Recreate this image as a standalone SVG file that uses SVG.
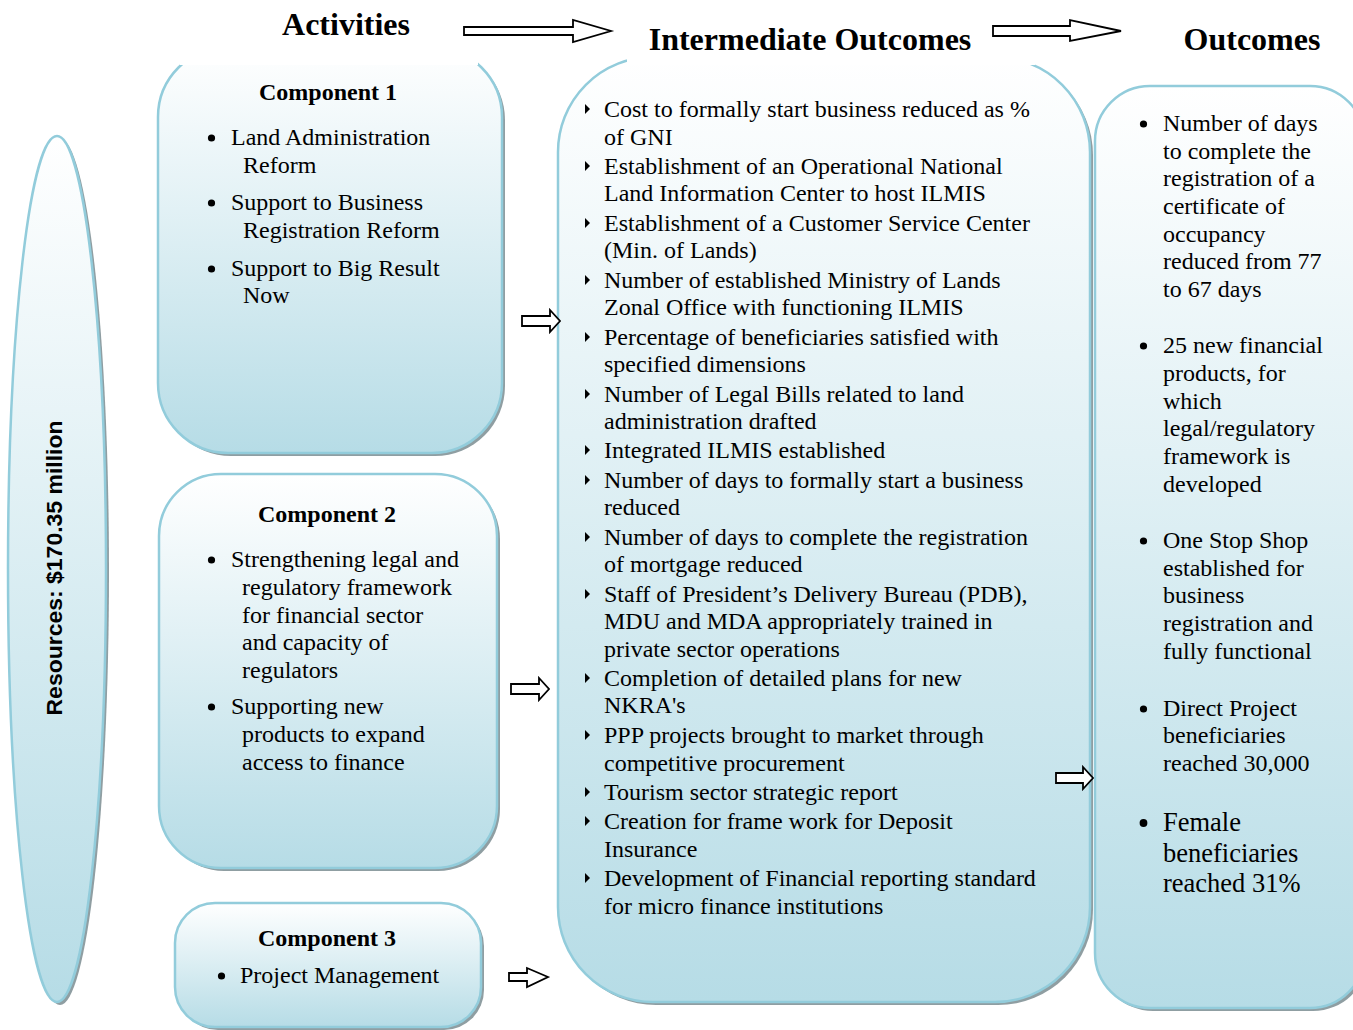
<svg xmlns="http://www.w3.org/2000/svg" width="1353" height="1030" viewBox="0 0 1353 1030">
<defs>
<linearGradient id="g" x1="0" y1="0" x2="0" y2="1">
<stop offset="0" stop-color="#ffffff"/>
<stop offset="1" stop-color="#b6dce6"/>
</linearGradient>
<style>
.box{fill:url(#g);stroke:#92ccdb;stroke-width:2.5}
.sh{fill:#8f9ea2}
.t{font-family:"Liberation Serif","Times New Roman",serif;font-size:24px;fill:#000}
.h{font-family:"Liberation Serif","Times New Roman",serif;font-size:24px;font-weight:bold;fill:#000;text-anchor:middle}
.title{font-family:"Liberation Serif","Times New Roman",serif;font-size:32px;font-weight:bold;fill:#000;text-anchor:middle}
.arr{fill:#fff;stroke:#000;stroke-width:1.8;stroke-linejoin:miter}
.tri{fill:#000}
.dot{fill:#000}
</style>
</defs>
<rect width="1353" height="1030" fill="#fff"/>

<g id="resources">
<ellipse cx="60" cy="572" rx="49" ry="433" class="sh"/>
<ellipse cx="57" cy="569" rx="49" ry="433" class="box"/>
<text transform="translate(62,568) rotate(-90)" text-anchor="middle" font-family="Liberation Sans Narrow,Liberation Sans,Arial,sans-serif" font-size="22" font-weight="bold" textLength="295" lengthAdjust="spacingAndGlyphs">Resources: $170.35 million</text>
</g>

<g id="component1">
<rect x="161" y="50" width="344" height="406" rx="70" class="sh"/>
<rect x="158" y="47" width="344" height="406" rx="70" class="box"/>
<rect x="180" y="0" width="298" height="65" fill="#fff"/>
<text x="328" y="100" class="h">Component 1</text>
<circle class="dot" cx="211.5" cy="138" r="3.6"/>
<text x="231" y="145" class="t">Land Administration</text>
<text x="243" y="173" class="t">Reform</text>
<circle class="dot" cx="211.5" cy="203" r="3.6"/>
<text x="231" y="210" class="t">Support to Business</text>
<text x="243" y="238" class="t">Registration Reform</text>
<circle class="dot" cx="211.5" cy="269" r="3.6"/>
<text x="231" y="276" class="t">Support to Big Result</text>
<text x="243" y="303" class="t">Now</text>
</g>

<g id="component2">
<rect x="162" y="477" width="338" height="394" rx="62" class="sh"/>
<rect x="159" y="474" width="338" height="394" rx="62" class="box"/>
<text x="327" y="522" class="h">Component 2</text>
<circle class="dot" cx="211.5" cy="560" r="3.6"/>
<text x="231" y="567" class="t">Strengthening legal and</text>
<text x="242" y="595" class="t">regulatory framework</text>
<text x="242" y="623" class="t">for financial sector</text>
<text x="242" y="650" class="t">and capacity of</text>
<text x="242" y="678" class="t">regulators</text>
<circle class="dot" cx="211.5" cy="707" r="3.6"/>
<text x="231" y="714" class="t">Supporting new</text>
<text x="242" y="742" class="t">products to expand</text>
<text x="242" y="770" class="t">access to finance</text>
</g>

<g id="component3">
<rect x="178" y="906" width="306" height="124" rx="40" class="sh"/>
<rect x="175" y="903" width="306" height="124" rx="40" class="box"/>
<text x="327" y="946" class="h">Component 3</text>
<circle class="dot" cx="221.5" cy="976" r="3.6"/>
<text x="240" y="983" class="t">Project Management</text>
</g>

<g id="intermediate">
<rect x="561" y="60" width="532" height="945" rx="95" class="sh"/>
<rect x="558" y="57" width="532" height="945" rx="95" class="box"/>
<rect x="627" y="0" width="408" height="65" fill="#fff"/>
<g class="tri">
<polygon points="585,104 590,109 585,114"/>
<polygon points="585,161 590,166 585,171"/>
<polygon points="585,218 590,223 585,228"/>
<polygon points="585,275 590,280 585,285"/>
<polygon points="585,332 590,337 585,342"/>
<polygon points="585,389 590,394 585,399"/>
<polygon points="585,445 590,450 585,455"/>
<polygon points="585,475 590,480 585,485"/>
<polygon points="585,532 590,537 585,542"/>
<polygon points="585,589 590,594 585,599"/>
<polygon points="585,673 590,678 585,683"/>
<polygon points="585,730 590,735 585,740"/>
<polygon points="585,787 590,792 585,797"/>
<polygon points="585,816 590,821 585,826"/>
<polygon points="585,873 590,878 585,883"/>
</g>
<text class="t" x="604" y="117">Cost to formally start business reduced as %</text>
<text class="t" x="604" y="145">of GNI</text>
<text class="t" x="604" y="174">Establishment of an Operational National</text>
<text class="t" x="604" y="201">Land Information Center to host ILMIS</text>
<text class="t" x="604" y="231">Establishment of a Customer Service Center</text>
<text class="t" x="604" y="258">(Min. of Lands)</text>
<text class="t" x="604" y="288">Number of established Ministry of Lands</text>
<text class="t" x="604" y="315">Zonal Office with functioning ILMIS</text>
<text class="t" x="604" y="345">Percentage of beneficiaries satisfied with</text>
<text class="t" x="604" y="372">specified dimensions</text>
<text class="t" x="604" y="402">Number of Legal Bills related to land</text>
<text class="t" x="604" y="429">administration drafted</text>
<text class="t" x="604" y="458">Integrated ILMIS established</text>
<text class="t" x="604" y="488">Number of days to formally start a business</text>
<text class="t" x="604" y="515">reduced</text>
<text class="t" x="604" y="545">Number of days to complete the registration</text>
<text class="t" x="604" y="572">of mortgage reduced</text>
<text class="t" x="604" y="602">Staff of President’s Delivery Bureau (PDB),</text>
<text class="t" x="604" y="629">MDU and MDA appropriately trained in</text>
<text class="t" x="604" y="657">private sector operations</text>
<text class="t" x="604" y="686">Completion of detailed plans for new</text>
<text class="t" x="604" y="713">NKRA's</text>
<text class="t" x="604" y="743">PPP projects brought to market through</text>
<text class="t" x="604" y="771">competitive procurement</text>
<text class="t" x="604" y="800">Tourism sector strategic report</text>
<text class="t" x="604" y="829">Creation for frame work for Deposit</text>
<text class="t" x="604" y="857">Insurance</text>
<text class="t" x="604" y="886">Development of Financial reporting standard</text>
<text class="t" x="604" y="914">for micro finance institutions</text>
</g>

<g id="outcomes">
<rect x="1098" y="89" width="270" height="922" rx="55" class="sh"/>
<rect x="1095" y="86" width="270" height="922" rx="55" class="box"/>
<circle class="dot" cx="1143.5" cy="124" r="3.6"/>
<text class="t" x="1163" y="131">Number of days</text>
<text class="t" x="1163" y="159">to complete the</text>
<text class="t" x="1163" y="186">registration of a</text>
<text class="t" x="1163" y="214">certificate of</text>
<text class="t" x="1163" y="242">occupancy</text>
<text class="t" x="1163" y="269">reduced from 77</text>
<text class="t" x="1163" y="297">to 67 days</text>
<circle class="dot" cx="1143.5" cy="346" r="3.6"/>
<text class="t" x="1163" y="353">25 new financial</text>
<text class="t" x="1163" y="381">products, for</text>
<text class="t" x="1163" y="409">which</text>
<text class="t" x="1163" y="436">legal/regulatory</text>
<text class="t" x="1163" y="464">framework is</text>
<text class="t" x="1163" y="492">developed</text>
<circle class="dot" cx="1143.5" cy="541" r="3.6"/>
<text class="t" x="1163" y="548">One Stop Shop</text>
<text class="t" x="1163" y="576">established for</text>
<text class="t" x="1163" y="603">business</text>
<text class="t" x="1163" y="631">registration and</text>
<text class="t" x="1163" y="659">fully functional</text>
<circle class="dot" cx="1143.5" cy="709" r="3.6"/>
<text class="t" x="1163" y="716">Direct Project</text>
<text class="t" x="1163" y="743">beneficiaries</text>
<text class="t" x="1163" y="771">reached 30,000</text>
<circle class="dot" cx="1143.5" cy="823" r="3.9"/>
<text class="t" x="1163" y="831" style="font-size:26.5px">Female</text>
<text class="t" x="1163" y="862" style="font-size:26.5px">beneficiaries</text>
<text class="t" x="1163" y="892" style="font-size:26.5px">reached 31%</text>
</g>

<g id="headings">
<text class="title" x="346" y="35">Activities</text>
<text class="title" x="810" y="50">Intermediate Outcomes</text>
<text class="title" x="1252" y="50">Outcomes</text>
</g>

<g id="connectors">
<polygon class="arr" points="464,27 573,27 573,20 611,31 573,42 573,35 464,35"/>
<polygon class="arr" points="993,26 1070,26 1070,20 1121,31 1070,41 1070,36 993,36"/>
<polygon class="arr" points="522,316 550,316 550,310 560,321 550,332 550,326 522,326"/>
<polygon class="arr" points="511,684 539,684 539,678 549,689 539,700 539,694 511,694"/>
<polygon class="arr" points="509,973 527,973 527,968 548,977 527,987 527,981 509,981"/>
<polygon class="arr" points="1056,773 1083,773 1083,767 1093,778 1083,789 1083,783 1056,783"/>
</g>
</svg>
